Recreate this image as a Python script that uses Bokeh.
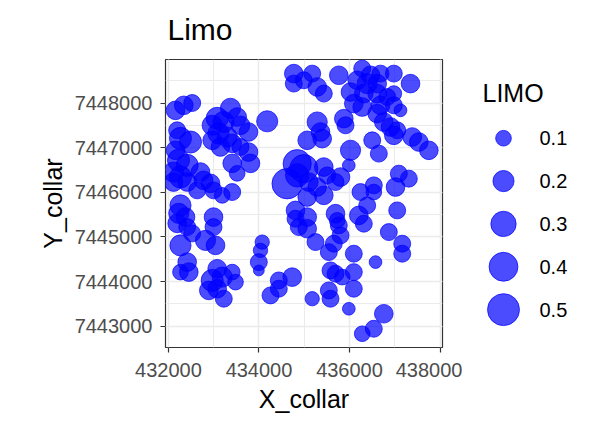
from bokeh.plotting import figure
from bokeh.models import Range1d, SingleIntervalTicker, BasicTickFormatter
from bokeh.layouts import row
from bokeh.core.properties import value
from bokeh.embed import file_html
from bokeh.resources import INLINE
import numpy as np

# ---- data ----
x_collar = [
    432155, 432338, 432524, 432192, 432265, 432486, 432155, 432221, 432413, 432111,
    432265, 432111, 432413, 432707, 432774, 432928, 432995, 433187, 433408, 432634,
    433370, 433076, 432966, 433216, 433518, 433591, 433768, 433105, 433297, 432966,
    433149, 433408, 433591, 433768, 433812, 433408, 433518, 434181,
    432265, 432228, 432376, 432192, 432413, 432524, 432995, 432995, 432818, 433039,
    432265, 432413, 432265, 432449,
    433076, 432966, 433187, 433408, 433481, 433076, 433222, 432891,
    434071, 434033, 433996, 433996,
    434734, 434438, 434438, 434254, 435176,
    435286, 435359, 435397, 435065, 434844, 434990, 434623, 434844, 435101, 435432,
    435507, 435286, 435065, 435432, 434807, 435065, 434807, 435065, 435249, 434880,
    434769, 435176, 434769, 434990, 435286, 435432, 435764,
    435874, 435912, 436022, 435984, 435801, 435691, 435691, 435764, 435801, 435543,
    435653, 436095, 436575,
    435580, 435691, 435839, 436095, 435543, 435580, 436095, 435985, 436758, 436537,
    436281,
    436281, 436464, 436685, 436979, 436170, 436391, 436612, 437348, 436022, 436316,
    436612, 436833, 436979, 436095, 436281, 436685, 436979, 437127, 436612, 436758,
    436906, 437054, 436979, 436502, 436648, 437386, 437532, 437753, 437090, 437311,
    437017, 436537, 436537, 436243, 436391, 436206, 436316, 437054, 436869, 437165,
    437165, 435728,
]
y_collar = [
    7447836, 7447948, 7448000, 7447388, 7447208, 7447126, 7446940, 7446715, 7446603, 7446453,
    7446341, 7446229, 7446229, 7446453, 7446267, 7446200, 7446043, 7445931, 7446005, 7446043,
    7447881, 7447657, 7447502, 7447574, 7447686, 7447500, 7447350, 7447321, 7447238, 7447164,
    7447014, 7447096, 7447014, 7446901, 7446648, 7446648, 7446424, 7447590,
    7445706, 7445527, 7445444, 7445303, 7445220, 7445079, 7445444, 7445220, 7444922, 7444810,
    7444810, 7444435, 7444211, 7444211,
    7444287, 7444025, 7444099, 7444211, 7443987, 7443839, 7443615, 7443801,
    7444884, 7444698, 7444435, 7444249,
    7444099, 7444025, 7443839, 7443689, 7443615,
    7447574, 7447350, 7447202, 7447164, 7446641, 7446529, 7446193, 7446379, 7446229, 7446565,
    7446379, 7446117, 7445893, 7445931, 7445594, 7445444, 7445408, 7445184, 7444884, 7445220,
    7448659, 7448659, 7448435, 7448509, 7448359, 7448211, 7448621,
    7447650, 7447500, 7446940, 7446603, 7446341, 7446229, 7445520, 7445258, 7445034, 7444659,
    7444848, 7444624, 7444435,
    7444249, 7444175, 7444099, 7444211, 7443801, 7443615, 7443839, 7443390, 7443278, 7442942,
    7442830,
    7448771, 7448621, 7448659, 7448659, 7448509, 7448435, 7448435, 7448435, 7448247, 7448211,
    7448211, 7448135, 7448211, 7447987, 7447910, 7447948, 7447948, 7447836, 7447762, 7447574,
    7447462, 7447388, 7447276, 7447164, 7446866, 7447238, 7447126, 7446940, 7446417, 7446305,
    7446117, 7446155, 7446005, 7446005, 7445706, 7445482, 7445296, 7445594, 7445108, 7444848,
    7444624, 7445370,
]
limo = [
    0.15, 0.15, 0.12, 0.12, 0.22, 0.22, 0.15, 0.22, 0.22, 0.18,
    0.22, 0.15, 0.15, 0.15, 0.15, 0.15, 0.12, 0.10, 0.12, 0.12,
    0.18, 0.22, 0.18, 0.20, 0.15, 0.15, 0.15, 0.20, 0.18, 0.15,
    0.15, 0.15, 0.12, 0.15, 0.15, 0.15, 0.10, 0.20,
    0.20, 0.18, 0.15, 0.15, 0.12, 0.12, 0.15, 0.12, 0.18, 0.15,
    0.20, 0.15, 0.10, 0.15,
    0.15, 0.22, 0.18, 0.10, 0.10, 0.15, 0.12, 0.15,
    0.08, 0.08, 0.12, 0.04,
    0.15, 0.12, 0.12, 0.12, 0.08,
    0.18, 0.15, 0.15, 0.15, 0.38, 0.38, 0.45, 0.25, 0.15, 0.15,
    0.12, 0.15, 0.15, 0.15, 0.15, 0.15, 0.12, 0.15, 0.12, 0.12,
    0.15, 0.12, 0.12, 0.12, 0.15, 0.12, 0.15,
    0.15, 0.12, 0.18, 0.06, 0.15, 0.12, 0.15, 0.12, 0.12, 0.12,
    0.12, 0.12, 0.06,
    0.12, 0.12, 0.10, 0.12, 0.12, 0.12, 0.12, 0.06, 0.15, 0.12,
    0.10,
    0.12, 0.15, 0.12, 0.12, 0.15, 0.18, 0.15, 0.15, 0.15, 0.15,
    0.15, 0.12, 0.10, 0.15, 0.15, 0.15, 0.12, 0.06, 0.15, 0.15,
    0.15, 0.12, 0.15, 0.12, 0.12, 0.15, 0.15, 0.15, 0.12, 0.12,
    0.15, 0.12, 0.10, 0.12, 0.12, 0.15, 0.12, 0.12, 0.12, 0.12,
    0.12, 0.10,
]
legend_values = [0.1, 0.2, 0.3, 0.4, 0.5]
legend_labels = ["0.1", "0.2", "0.3", "0.4", "0.5"]
title_text = "Limo"

FONT = "Liberation Sans"


def size_scale(v):
    # area-style size scale (diameter in px)
    return 2.5 + 41.7 * np.sqrt(np.asarray(v, dtype=float))


# ---- main plot ----
BL, BT, FW, FH, BR, BB = 165, 58, 277, 289, 20, 73
H = BT + FH + BB
p = figure(width=BL + FW + BR, height=H, output_backend="svg", toolbar_location=None,
           x_range=Range1d(431934, 438055), y_range=Range1d(7442522, 7448975),
           min_border_left=BL, min_border_right=BR, min_border_top=BT, min_border_bottom=BB)
p.background_fill_color = "white"
p.border_fill_color = "white"
p.outline_line_color = "#333333"
p.outline_line_width = 1.2

p.scatter(x_collar, y_collar, size=size_scale(limo), marker="circle",
          fill_color="blue", fill_alpha=0.7, line_color="blue", line_alpha=0.7, line_width=1)

p.title.text = title_text
p.title.text_font = FONT
p.title.text_font_size = "30px"
p.title.text_font_style = "normal"
p.title.text_color = "black"
p.title.text_line_height = 1.0
p.title.align = "left"
p.title.vertical_align = "top"
p.title.offset = 2
p.title.standoff = 24

p.xaxis.ticker = SingleIntervalTicker(interval=2000, num_minor_ticks=2)
p.yaxis.ticker = SingleIntervalTicker(interval=1000, num_minor_ticks=2)
for ax in (p.xaxis, p.yaxis):
    ax.formatter = BasicTickFormatter(use_scientific=False)
    ax.axis_line_color = None
    ax.major_tick_line_color = "#333333"
    ax.major_tick_line_width = 1.2
    ax.major_tick_out = 5
    ax.major_tick_in = 0
    ax.minor_tick_line_color = None
    ax.major_label_text_font = FONT
    ax.major_label_text_font_size = "20px"
    ax.major_label_text_color = "#4D4D4D"
    ax.axis_label_text_font = FONT
    ax.axis_label_text_font_size = "25px"
    ax.axis_label_text_font_style = "normal"
    ax.axis_label_text_color = "black"
p.xaxis.axis_label = "X_collar"
p.yaxis.axis_label = "Y_collar"
p.xaxis.major_label_standoff = 10
p.yaxis.major_label_standoff = 8
p.xaxis.axis_label_standoff = 5
p.yaxis.axis_label_standoff = 5

for g in (p.xgrid, p.ygrid):
    g.grid_line_color = "#EBEBEB"
    g.grid_line_width = 1.6
    g.minor_grid_line_color = "#EBEBEB"
    g.minor_grid_line_width = 1

# ---- legend panel (frame aligned with the main frame; ranges in page pixels) ----
LW = 130
x0 = BL + FW + BR
lg = figure(width=LW, height=H, output_backend="svg", toolbar_location=None,
            x_range=Range1d(x0, x0 + LW), y_range=Range1d(BT + FH, BT),
            min_border_left=0, min_border_right=0,
            min_border_top=BT, min_border_bottom=BB)
lg.axis.visible = False
lg.grid.visible = False
lg.outline_line_color = None
lg.background_fill_color = "white"
lg.border_fill_color = "white"

row_y = [137 + 43 * i for i in range(len(legend_values))]
lg.scatter([503] * len(legend_values), row_y, size=size_scale(legend_values), marker="circle",
           fill_color="blue", fill_alpha=0.7, line_color="blue", line_alpha=0.7, line_width=1)
lg.text([539] * len(legend_labels), row_y, text=legend_labels, text_font=value(FONT),
        text_font_size="20px", text_baseline="middle", text_align="left", text_color="black")
lg.text([482], [92], text=["LIMO"], text_font=value(FONT), text_font_size="25px",
        text_baseline="middle", text_align="left", text_color="black")

layout = row(p, lg)
open("out.html", "w").write(file_html(layout, INLINE))
